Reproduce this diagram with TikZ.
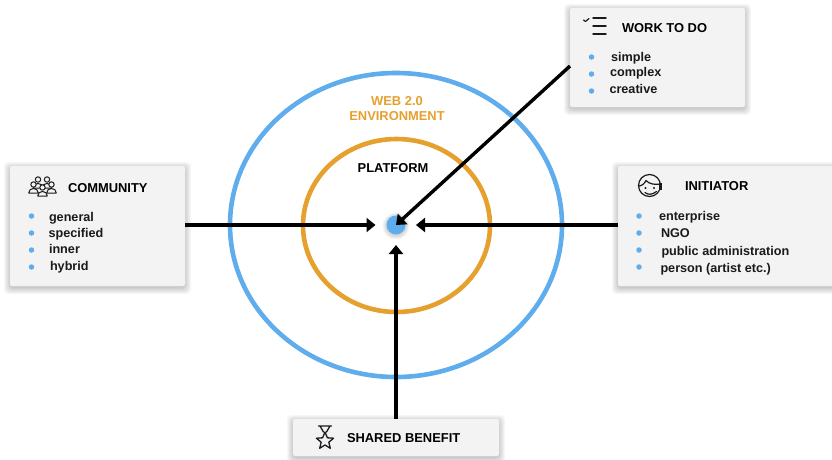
\documentclass[tikz,border=0pt]{standalone}
\usepackage{fontspec}
\setmainfont{Liberation Sans}
\usetikzlibrary{arrows.meta,shapes.geometric,calc}
\definecolor{skyb}{HTML}{5FADEC}
\definecolor{ambr}{HTML}{E5A02E}
\definecolor{cardf}{HTML}{F3F3F3}
\definecolor{ink}{HTML}{1A1A1A}
\tikzset{
  card/.style={draw=none,fill=cardf,rounded corners=2pt,anchor=north west,inner sep=0pt,outer sep=0pt},
  ring/.style={ellipse,draw,line width=4.6pt,inner sep=0pt,outer sep=0pt},
  link/.style={line width=3.4pt,black,-{Triangle[length=9pt,width=14pt]}},
  lab/.style={anchor=base west,inner sep=0pt,outer sep=0pt,font=\fontsize{12.65}{14}\selectfont\bfseries,text=ink},
  head/.style={lab,font=\fontsize{12.9}{14}\selectfont\bfseries,text=black},
  ringtext/.style={anchor=base,inner sep=0pt,font=\fontsize{12.9}{14}\selectfont\bfseries},
  dotb/.style={circle,fill=skyb,inner sep=0pt,minimum size=5.5pt},
  icon/.style={draw=ink,line width=1.2pt,line cap=round,line join=round},
}
\newcommand{\softshade}[4]{%
  \foreach \g in {6,5,4,3,2,1,0}{%
    \fill[black,opacity=0.03,rounded corners=4pt] (#1-\g,#2-\g+2) rectangle (#3+\g,#4+\g+2);}}
\newcommand{\person}[2]{%
  \draw[icon,line width=1pt,fill=cardf] (#1-4.8,#2+8.5) .. controls (#1-4.8,#2+2.5) and (#1+4.8,#2+2.5) .. (#1+4.8,#2+8.5) -- cycle;
  \draw[icon,line width=1pt,fill=cardf] (#1,#2) circle (2.7);}
\begin{document}
\begin{tikzpicture}[x=1pt,y=-1pt]
\useasboundingbox (0,0) rectangle (832,459);
\fill[white] (0,0) rectangle (832,459);
% rings
\node[ring,draw=skyb,minimum width=332pt,minimum height=304pt] (outer) at (396,225) {};
\node[ring,draw=ambr,minimum width=187pt,minimum height=173pt] (inner) at (396.5,225.5) {};
\node[ringtext,text=ambr] (web) at (397,105.5) {WEB 2.0};
\node[ringtext,text=ambr] (env) at (397,120.5) {ENVIRONMENT};
\node[ringtext,text=black] (plat) at (393,172.5) {PLATFORM};
% hub
\foreach \g in {4,3,2,1}{\fill[black,opacity=0.04] (396,226) circle (9.5+\g);}
\node[circle,fill=skyb,inner sep=0pt,outer sep=0pt,minimum size=19pt] (hub) at (396,225) {};
% card shadows
\softshade{10}{166}{185}{286}
\softshade{570}{8}{745}{107}
\softshade{618}{166}{850}{286}
\softshade{293}{419}{499}{456}
% cards
\node[card,minimum width=175pt,minimum height=120pt] (community) at (10,166) {};
\node[card,minimum width=175pt,minimum height=99pt] (work) at (570,8) {};
\node[card,minimum width=232pt,minimum height=120pt] (initiator) at (618,166) {};
\node[card,minimum width=206pt,minimum height=37pt] (benefit) at (293,419) {};
% connectors
\coordinate (workout) at ($(work.south west)+(0,-41)$);
\draw[link,shorten >=11pt] (community.east |- hub) -- (hub.west);
\draw[link,shorten >=10.5pt] (initiator.west |- hub) -- (hub.east);
\draw[link,shorten >=10.5pt] (benefit.north -| hub) -- (hub.south);
\draw[link] (workout) -- (hub.center);
% community
\node[head] (t1) at (68,192.5) {COMMUNITY};
\node[lab] at (49,221) {general};
\node[lab] at (48.5,237.5) {specified};
\node[lab] at (49,253.5) {inner};
\node[lab] at (50,270) {hybrid};
\foreach \y in {216,233,250,267}{\node[dotb] at (31.5,\y) {};}
\person{38}{179.5}\person{47}{179.5}
\person{33.5}{184.5}\person{51.5}{184.5}
\person{42.5}{187.5}
% work
\node[head] (t2) at (622,32) {WORK TO DO};
\node[lab] at (611,61) {simple};
\node[lab] at (610,76) {complex};
\node[lab] at (609.5,93.5) {creative};
\foreach \y in {57,74,91}{\node[dotb] at (591.5,\y) {};}
\draw[icon,line width=1.4pt] (593,18)--(606,18) (593,26)--(606,26) (593,34)--(606,34);
\draw[icon,line width=1.2pt] (583.5,20)--(585.5,21.5)--(589,18.5);
% initiator
\node[head] (t3) at (685,190.5) {INITIATOR};
\node[lab] at (659,220) {enterprise};
\node[lab] at (661,237.5) {NGO};
\node[lab] at (661.5,255.5) {public administration};
\node[lab] at (660.5,272.5) {person (artist etc.)};
\foreach \y in {216,233,250,267}{\node[dotb] at (639,\y) {};}
\draw[icon] (649.5,185.5) circle (11);
\draw[icon] (638.8,186) .. controls (642,186) and (645,183) .. (646,180.5) .. controls (649,184) and (655,185) .. (660.2,184);
\fill[ink] (645.5,188) circle (1.1) (654,188) circle (1.1);
\draw[icon] (645,192.5) .. controls (648,195) and (652,195) .. (656.5,191.5);
\fill[ink] (658.5,182.5) rectangle (662,189.5);
% benefit
\node[head] (t4) at (347,442.5) {SHARED BENEFIT};
\draw[icon,line width=1.3pt] (318.5,426)--(331.5,426) (320,426)--(323.5,432) (330,426)--(326.5,432);
\draw[icon,line width=1.3pt] (325,432)--(327.4,437.8)--(333.6,438.2)--(328.8,442.2)--(330.3,448.3)--(325,445)--(319.7,448.3)--(321.2,442.2)--(316.4,438.2)--(322.6,437.8)--cycle;
\end{tikzpicture}
\end{document}
